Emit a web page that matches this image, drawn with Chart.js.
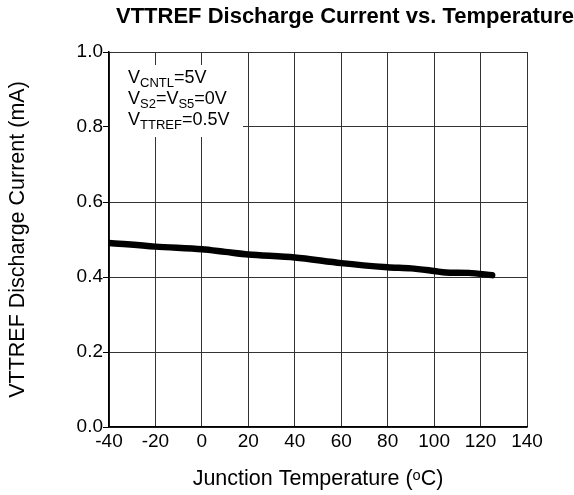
<!DOCTYPE html>
<html>
<head>
<meta charset="utf-8">
<script src="https://cdn.jsdelivr.net/npm/chart.js@4/dist/chart.umd.min.js"></script>
<style>
  html, body { margin: 0; padding: 0; background: #fff; }
  #wrap { width: 574px; height: 495px; }
</style>
</head>
<body>
<div id="wrap"><canvas id="chart" width="574" height="495"></canvas></div>
<script>
// data
const temps = [-40, -20, 0, 10, 20, 40, 60, 80, 90, 100, 105, 115, 125];
const current = [0.491, 0.481, 0.474, 0.467, 0.460, 0.452, 0.437, 0.426, 0.423, 0.416, 0.412, 0.411, 0.405];
const xTicks = [-40, -20, 0, 20, 40, 60, 80, 100, 120, 140];
const yTicks = [0.0, 0.2, 0.4, 0.6, 0.8, 1.0];

const titleText = "VTTREF Discharge Current vs. Temperature";
const yTitle = "VTTREF Discharge Current (mA)";
const xTitle = "Junction Temperature (\u1D52C)";
// condition lines: [main, subscript] pairs
const conditions = [
  [["V", "CNTL"], ["=5V", ""]],
  [["V", "S2"], ["=V", "S5"], ["=0V", ""]],
  [["V", "TTREF"], ["=0.5V", ""]]
];

const FONT = "'Liberation Sans', Arial, sans-serif";

// title + conditions box, drawn by hand
const extras = {
  id: "extras",
  beforeDatasetsDraw(chart) {
    const ctx = chart.ctx;
    const a = chart.chartArea;
    ctx.save();
    ctx.fillStyle = "#fff";
    ctx.fillRect(a.left + 1, 65, 133, 72);
    ctx.fillStyle = "#000";
    ctx.textBaseline = "alphabetic";
    ctx.textAlign = "left";
    let baseY = 83;
    conditions.forEach(line => {
      let x = 128;
      line.forEach(part => {
        ctx.font = "18px " + FONT;
        ctx.fillText(part[0], x, baseY);
        x += ctx.measureText(part[0]).width;
        if (part[1]) {
          ctx.font = "13px " + FONT;
          ctx.fillText(part[1], x, baseY + 4);
          x += ctx.measureText(part[1]).width;
        }
      });
      baseY += 21;
    });
    ctx.restore();
  },
  afterDraw(chart) {
    const ctx = chart.ctx;
    ctx.save();
    ctx.font = "bold 22px " + FONT;
    ctx.fillStyle = "#000";
    ctx.textAlign = "center";
    ctx.textBaseline = "alphabetic";
    ctx.fillText(titleText, 345, 23);
    ctx.restore();
  }
};

new Chart(document.getElementById("chart"), {
  type: "line",
  data: {
    datasets: [{
      data: temps.map((t, i) => ({ x: t, y: current[i] })),
      borderColor: "#000",
      borderWidth: 6.5,
      borderCapStyle: "round",
      borderJoinStyle: "round",
      pointRadius: 0,
      tension: 0.3,
      fill: false
    }]
  },
  options: {
    responsive: false,
    animation: false,
    layout: { padding: { top: 52, right: 47, left: 0, bottom: 0 } },
    plugins: {
      legend: { display: false },
      tooltip: { enabled: false },
      title: { display: false }
    },
    scales: {
      x: {
        type: "linear",
        min: -40,
        max: 140,
        afterBuildTicks(scale) { scale.ticks = xTicks.map(v => ({ value: v })); },
        afterFit(scale) { scale.height = 68; },
        grid: { color: "#333", lineWidth: 1, drawTicks: false },
        border: { color: "#000", width: 1.5 },
        ticks: {
          color: "#000",
          padding: 3,
          font: { family: FONT, size: 19 },
          maxRotation: 0,
          callback: v => String(v)
        },
        title: {
          display: true,
          text: xTitle,
          color: "#000",
          font: { family: FONT, size: 21.5 },
          padding: { top: 4, bottom: 3 }
        }
      },
      y: {
        min: 0,
        max: 1,
        afterBuildTicks(scale) { scale.ticks = yTicks.map(v => ({ value: v })); },
        afterFit(scale) { scale.width = 109; },
        grid: { color: "#333", lineWidth: 1, tickLength: 6, tickColor: "#000" },
        border: { color: "#000", width: 1.5 },
        ticks: {
          color: "#000",
          padding: 0,
          font: { family: FONT, size: 19 },
          callback: v => Number(v).toFixed(1)
        },
        title: {
          display: true,
          text: yTitle,
          color: "#000",
          font: { family: FONT, size: 21.5 },
          padding: { top: 5, bottom: 4 }
        }
      }
    }
  },
  plugins: [extras]
});
</script>
</body>
</html>
